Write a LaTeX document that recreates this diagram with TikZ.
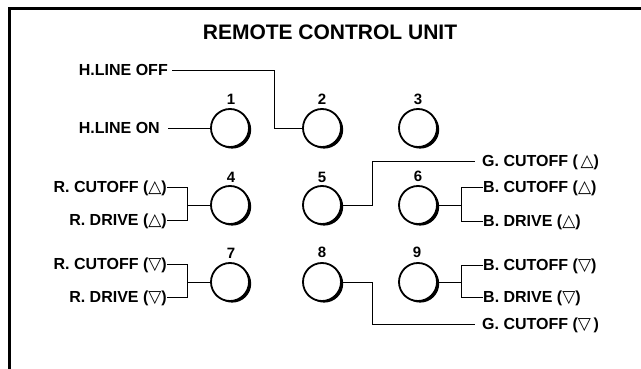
\documentclass[tikz,border=0pt]{standalone}
\usepackage{fontspec}
\setmainfont{Liberation Sans}
\newfontfamily\symfont{DejaVu Sans}
\newcommand\triup{{\symfont\fontsize{17}{17}\selectfont △}}
\newcommand\tridn{{\symfont\fontsize{17}{17}\selectfont ▽}}
\begin{document}
\begin{tikzpicture}[x=1pt,y=-1pt,
  lbl/.style={font=\fontsize{16}{18}\selectfont\bfseries, inner sep=0pt, text height=11.5pt, text depth=0pt},
  num/.style={font=\fontsize{15}{16}\selectfont\bfseries, inner sep=0pt, text height=10.7pt, text depth=0pt},
  btn/.style={circle, draw, line width=1.8pt, minimum size=38pt, inner sep=0pt, fill=white,
    preaction={fill=black, transform canvas={xshift=2.2pt,yshift=-1.6pt}}},
  wire/.style={line width=0.9pt}]
\useasboundingbox (0,0) rectangle (641,369);
% frame
\draw[line width=2.5pt] (641,8.5) -- (9.5,8.5) -- (9.5,369);
% title
\node[font=\fontsize{21}{24}\selectfont\bfseries, text height=15pt, text depth=0pt, inner sep=0pt] (title) at (330,32) {REMOTE CONTROL UNIT};
% buttons
\node[btn] (c1) at (230,128) {};
\node[btn] (c2) at (322,128) {};
\node[btn] (c3) at (418,128) {};
\node[btn] (c4) at (230,205) {};
\node[btn] (c5) at (322,205) {};
\node[btn] (c6) at (418,205) {};
\node[btn] (c7) at (230,282) {};
\node[btn] (c8) at (322,282) {};
\node[btn] (c9) at (418,282) {};
% numbers
\node[num] (n1) at (231,99) {1};
\node[num] (n2) at (322,99) {2};
\node[num] (n3) at (418,99) {3};
\node[num] (n4) at (231,177) {4};
\node[num] (n5) at (322,177) {5};
\node[num] (n6) at (418,176) {6};
\node[num] (n7) at (231,253) {7};
\node[num] (n8) at (322,252) {8};
\node[num] (n9) at (417,252) {9};
% left labels
\node[lbl, anchor=east] (hoff) at (168,70) {H.LINE OFF};
\node[lbl, anchor=east] (hon) at (160,128) {H.LINE ON};
\node[lbl, anchor=east] (rcu) at (167,187) {R. CUTOFF (\triup)};
\node[lbl, anchor=east] (rdu) at (167,220) {R. DRIVE (\triup)};
\node[lbl, anchor=east] (rcd) at (167,264) {R. CUTOFF (\tridn)};
\node[lbl, anchor=east] (rdd) at (167,297) {R. DRIVE (\tridn)};
% right labels
\node[lbl, anchor=west] (gcu) at (482,161) {G. CUTOFF (\,\triup)};
\node[lbl, anchor=west] (bcu) at (483,187) {B. CUTOFF (\triup)};
\node[lbl, anchor=west] (bdu) at (483,221) {B. DRIVE (\triup)};
\node[lbl, anchor=west] (bcd) at (483,265) {B. CUTOFF (\tridn)};
\node[lbl, anchor=west] (bdd) at (483,297) {B. DRIVE (\tridn)};
\node[lbl, anchor=west] (gcd) at (482,324) {G. CUTOFF (\tridn\,)};
% helper coordinates
\coordinate (k2) at (274,70);
\coordinate (b4) at (187,205);
\coordinate (b7) at (187,282);
\coordinate (k5) at (372,161);
\coordinate (b6) at (461,205);
\coordinate (b9) at (461,282);
\coordinate (k8) at (372,324);
% wires
\draw[wire] ([xshift=4pt]hoff.east) -- (k2) |- (c2.west);
\draw[wire] ([xshift=8pt]hon.east) -- (c1.west);
\draw[wire] (rcu.east) -| (b4);
\draw[wire] (rdu.east) -| (b4);
\draw[wire] (b4) -- (c4.west);
\draw[wire] (rcd.east) -| (b7);
\draw[wire] (rdd.east) -| (b7);
\draw[wire] (b7) -- (c7.west);
\draw[wire] (c5.east) -| (k5) -- ([xshift=-7pt]gcu.west);
\draw[wire] (c6.east) -- (b6);
\draw[wire] (bcu.west) -| (b6);
\draw[wire] (bdu.west) -| (b6);
\draw[wire] (c9.east) -- (b9);
\draw[wire] (bcd.west) -| (b9);
\draw[wire] (bdd.west) -| (b9);
\draw[wire] (c8.east) -| (k8) -- ([xshift=-7pt]gcd.west);
\end{tikzpicture}
\end{document}
